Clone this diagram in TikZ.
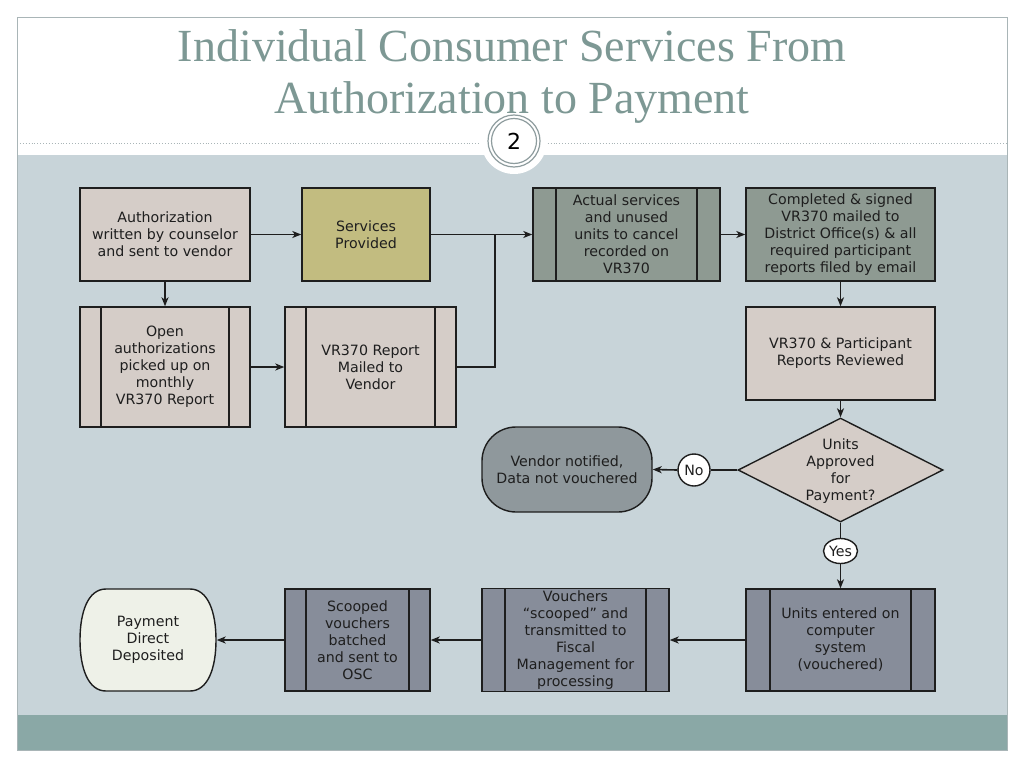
\documentclass[tikz,border=0pt]{standalone}
\usepackage{fontspec}
\setmainfont{DejaVu Sans}
\newfontfamily\titlefont{Liberation Serif}
\usetikzlibrary{arrows.meta,shapes.geometric}
\definecolor{bgblue}{HTML}{C8D4D9}
\definecolor{bandteal}{HTML}{8AA8A6}
\definecolor{titlecol}{HTML}{7D9894}
\definecolor{framecol}{HTML}{A9B5B7}
\definecolor{ringcol}{HTML}{8E9C9E}
\definecolor{tanfill}{HTML}{D5CDC8}
\definecolor{olivefill}{HTML}{C2BC80}
\definecolor{greenfill}{HTML}{8E9A92}
\definecolor{vendfill}{HTML}{8F989C}
\definecolor{slatefill}{HTML}{878D9A}
\definecolor{payfill}{HTML}{EEF1E8}
\definecolor{ink}{HTML}{1E1E1E}
\begin{document}
\begin{tikzpicture}[x=1pt,y=-1pt,
  box/.style={draw=ink, line width=1.4pt, inner sep=2pt, align=center,
    font=\fontsize{14.2}{17}\selectfont, text=ink},
  pp/.style={box, path picture={\draw[line width=1.4pt,ink]
    ([xshift=#1]path picture bounding box.north west) --
    ([xshift=#1]path picture bounding box.south west)
    ([xshift=-#1]path picture bounding box.north east) --
    ([xshift=-#1]path picture bounding box.south east);}},
  pp/.default=22pt,
  conn/.style={line width=1.6pt, ink, -{Stealth[length=9pt,width=7pt,inset=2.5pt]}},
  plain/.style={line width=1.6pt, ink},
]
\useasboundingbox (0,0) rectangle (1024,768);
\fill[white] (0,0) rectangle (1024,768);
% frame and backgrounds
\fill[bgblue] (17,155) rectangle (1007,715);
\fill[bandteal] (17,715) rectangle (1007,750);
\draw[framecol, line width=0.8pt] (17,17) rectangle (1007,750);
\draw[framecol, line width=0.9pt, dotted] (17,143) -- (1007,143);
\fill[white] (514,141) circle[radius=33pt];
\draw[ringcol, line width=1.2pt] (514,141) circle[radius=26pt];
\draw[ringcol, line width=1.2pt] (514,141) circle[radius=22.5pt];
\node[font=\fontsize{22}{24}\selectfont, text=black] (pagenum) at (514,141) {2};
% title
\node[anchor=base, font=\titlefont\fontsize{46}{52}\selectfont, text=titlecol] (t1) at (512,62) {Individual Consumer Services From};
\node[anchor=base, font=\titlefont\fontsize{46}{52}\selectfont, text=titlecol] (t2) at (512,113) {Authorization to Payment};

% nodes
\node[box, fill=tanfill, minimum width=170pt, minimum height=93pt] (auth) at (165,234.5)
  {Authorization\\written by counselor\\and sent to vendor};
\node[box, fill=olivefill, minimum width=128pt, minimum height=93pt] (serv) at (366,234.5)
  {Services\\Provided};
\node[pp=21pt, fill=tanfill, minimum width=170pt, minimum height=120pt] (open) at (165,367)
  {Open\\authorizations\\picked up on\\monthly\\VR370 Report};
\node[pp=21pt, fill=tanfill, minimum width=171pt, minimum height=120pt] (mail) at (370.5,367)
  {VR370 Report\\Mailed to\\Vendor};
\node[pp=23pt, fill=greenfill, minimum width=187pt, minimum height=93pt] (act) at (626.5,234.5)
  {Actual services\\and unused\\units to cancel\\recorded on\\VR370};
\node[box, fill=greenfill, minimum width=189pt, minimum height=93pt] (comp) at (840.5,234.5)
  {Completed \& signed\\VR370 mailed to\\District Office(s) \& all\\required participant\\reports filed by email};
\node[box, fill=tanfill, minimum width=189pt, minimum height=93pt] (rev) at (840.5,353.5)
  {VR370 \& Participant\\Reports Reviewed};
\node[box, diamond, fill=tanfill, inner sep=0pt, minimum width=205pt, minimum height=104pt] (dec) at (840.5,470)
  {\smash{\makebox[0pt]{\raisebox{-5.5pt}{\begin{tabular}{@{}c@{}}Units\\Approved\\for\\Payment?\end{tabular}}}}};
\node[box, fill=vendfill, rounded corners=34pt, minimum width=170pt, minimum height=85pt] (vend) at (567,469.5)
  {Vendor notified,\\Data not vouchered};
\node[box, circle, fill=white, inner sep=0pt, minimum size=32pt] (no) at (694,470) {No};
\node[box, ellipse, fill=white, inner sep=0pt, minimum width=34pt, minimum height=25pt] (yes) at (840.5,551) {Yes};
\node[pp=24pt, fill=slatefill, minimum width=189pt, minimum height=102pt] (units) at (840.5,640)
  {Units entered on\\computer\\system\\(vouchered)};
\node[pp=23pt, fill=slatefill, minimum width=187pt, minimum height=102pt] (vouch) at (575.5,640)
  {Vouchers\\“scooped” and\\transmitted to\\Fiscal\\Management for\\processing};
\node[pp=21pt, fill=slatefill, minimum width=145pt, minimum height=102pt] (scoop) at (357.5,640)
  {Scooped\\vouchers\\batched\\and sent to\\OSC};
\filldraw[fill=payfill, draw=ink, line width=1.4pt]
  (106,589) -- (190,589) .. controls (208,589) and (216,612) .. (216,640)
  .. controls (216,668) and (208,691) .. (190,691) -- (106,691)
  .. controls (88,691) and (80,668) .. (80,640)
  .. controls (80,612) and (88,589) .. (106,589) -- cycle;
\node[box, draw=none, minimum width=136pt, minimum height=102pt] (pay) at (148,640)
  {Payment\\Direct\\Deposited};

% connectors
\coordinate (j) at (495,234.5);
\draw[conn] (auth.east) -- (serv.west);
\draw[conn] (serv.east) -- (act.west);
\draw[plain] (mail.east) -| (j);
\draw[conn] (auth.south) -- (open.north);
\draw[conn] (open.east) -- (mail.west);
\draw[conn] (act.east) -- (comp.west);
\draw[conn] (comp.south) -- (rev.north);
\draw[conn] (rev.south) -- (dec.north);
\draw[plain] (dec.west) -- (no.east);
\draw[conn] (no.west) -- (vend.east);
\draw[plain] (dec.south) -- (yes.north);
\draw[conn] (yes.south) -- (units.north);
\draw[conn] (units.west) -- (vouch.east);
\draw[conn] (vouch.west) -- (scoop.east);
\draw[conn] (scoop.west) -- (pay.east);
\end{tikzpicture}
\end{document}
